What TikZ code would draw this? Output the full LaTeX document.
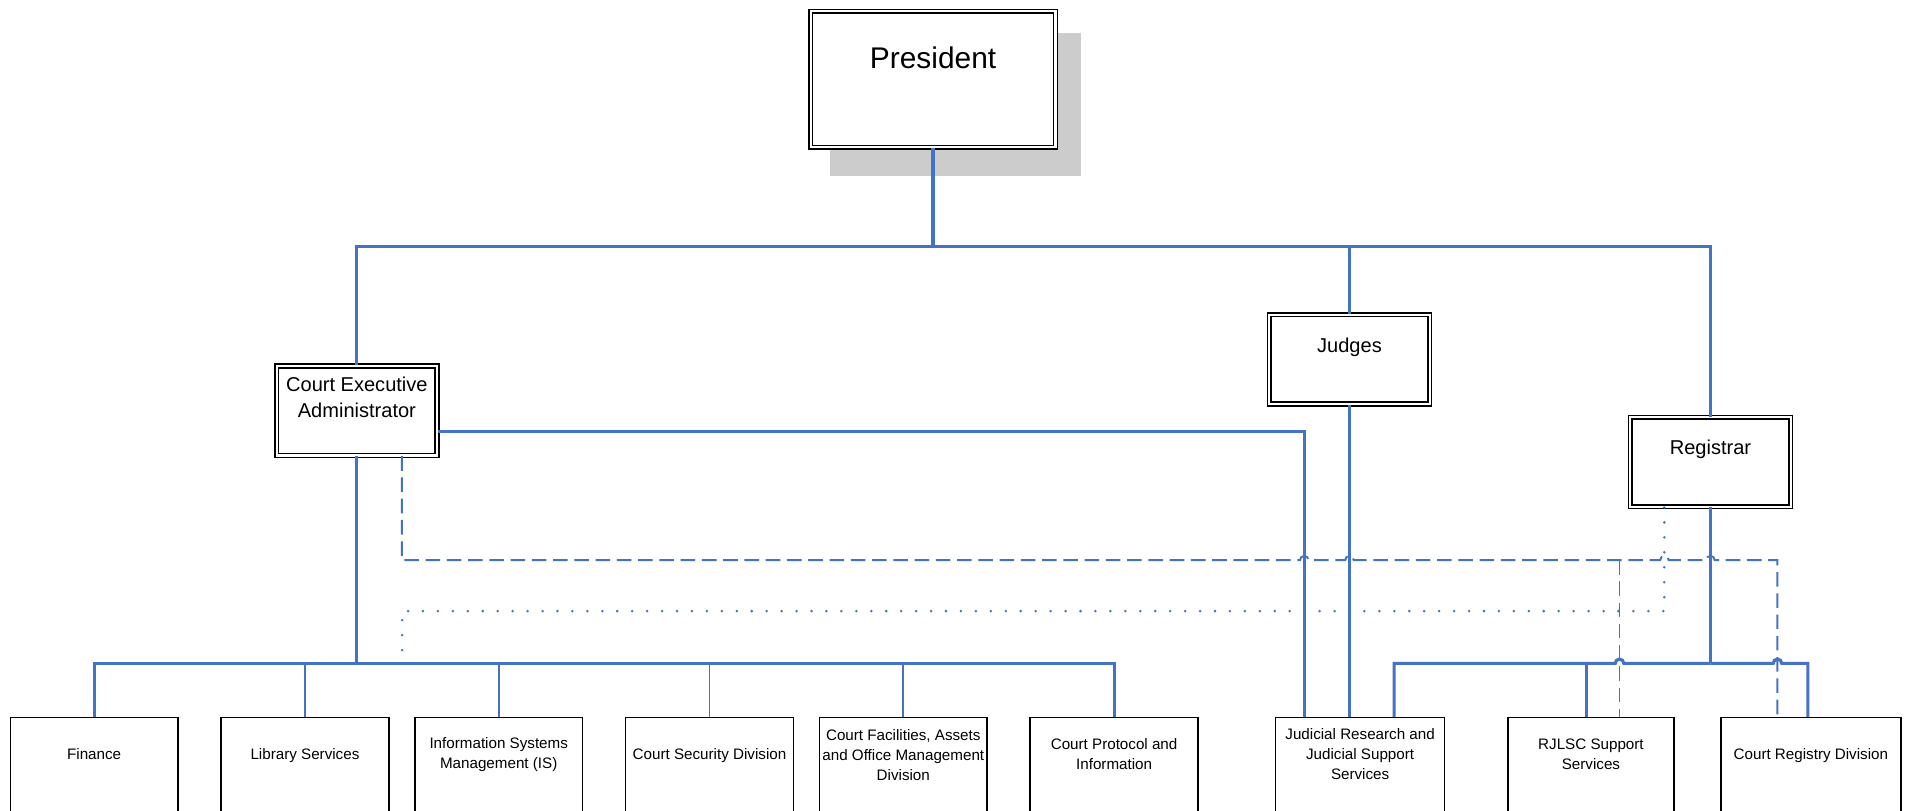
\documentclass[tikz,border=0pt]{standalone}
\usepackage{fontspec}
\setmainfont{Liberation Sans}
\usetikzlibrary{calc}
\usetikzlibrary{positioning}

\definecolor{linkblue}{RGB}{68,114,196}

\tikzset{
    conn/.style={draw=linkblue, line width=2.6pt},
    thinconn/.style={draw=linkblue, line width=1.4pt},
    dashconn/.style={draw=linkblue, line width=1.6pt, dash pattern=on 12pt off 5.5pt},
    dotconn/.style={draw=linkblue, line width=2.3pt, line cap=round, dash pattern=on 0pt off 12.3pt},
    headbox/.style={draw, double, double distance=1.8pt, line width=1.3pt, fill=white,
        minimum width=132pt, minimum height=73.5pt, inner sep=0pt},
    unitbox/.style={draw, line width=1.3pt, fill=white, minimum width=138pt,
        minimum height=150pt, anchor=north, inner sep=0pt},
    headtext/.style={font=\fontsize{16.5}{22}\selectfont, align=center, inner sep=0pt},
    unittext/.style={font=\fontsize{12.5}{16.5}\selectfont, align=center, inner sep=0pt},
}

\begin{document}
\begin{tikzpicture}[x=1pt,y=-1pt]
    \useasboundingbox (0,0) rectangle (1568,667.5);
    \clip (0,0) rectangle (1568,667.5);
    \fill[white] (0,0) rectangle (1568,667.5);

    % top of the chart
    \fill[black!20] (683,27) rectangle (890,145);
    \node[headbox, minimum width=201.6pt, minimum height=112pt] (pres) at (768,65.25) {};
    \node[headtext, font=\fontsize{24.6}{30}\selectfont, anchor=base] (pres-t) at (768,56.2) {President};

    \node[headbox] (cea) at (293.75,338.1) {};
    \node[headbox] (judges) at (1110.75,295.85) {};
    \node[headbox] (registrar) at (1407.85,380.3) {};
    \node[headtext] (cea-t) at (293.75,327) {Court Executive\\Administrator};
    \node[headtext, anchor=base] (judges-t) at (1110.75,290) {Judges};
    \node[headtext, anchor=base] (registrar-t) at (1407.85,373.7) {Registrar};

    % units
    \node[unitbox] (fin) at (77.5,590) {};
    \node[unitbox] (lib) at (251,590) {};
    \node[unitbox] (ism) at (410.5,590) {};
    \node[unitbox] (sec) at (584,590) {};
    \node[unitbox] (fac) at (743.5,590) {};
    \node[unitbox] (prot) at (917,590) {};
    \node[unitbox, minimum width=139pt] (jr) at (1119.5,590) {};
    \node[unitbox, minimum width=137pt] (rjlsc) at (1309.5,590) {};
    \node[unitbox, minimum width=148pt] (registry) at (1490.5,590) {};

    \node[unittext] (fin-t) at ([yshift=-30.5pt]fin.north) {Finance};
    \node[unittext] (lib-t) at ([yshift=-32pt]lib.north) {Library Services};
    \node[unittext] (ism-t) at ([yshift=-31pt]ism.north) {Information Systems\\Management (IS)};
    \node[unittext] (sec-t) at ([yshift=-32pt]sec.north) {Court Security Division};
    \node[unittext] (fac-t) at ([yshift=-31.5pt]fac.north) {Court Facilities, Assets\\and Office Management\\Division};
    \node[unittext] (prot-t) at ([yshift=-31pt]prot.north) {Court Protocol and\\Information};
    \node[unittext] (jr-t) at ([yshift=-31pt]jr.north) {Judicial Research and\\Judicial Support\\Services};
    \node[unittext] (rjlsc-t) at ([yshift=-31pt]rjlsc.north) {RJLSC Support\\Services};
    \node[unittext] (registry-t) at ([yshift=-32pt]registry.north) {Court Registry Division};

    % solid lines
    \coordinate (pres-bus) at (768,203);
    \coordinate (cea-bus) at (293.75,546);
    \coordinate (reg-bus) at (1407.85,546);
    \coordinate (dash-split) at (1333,461);
    \coordinate (dot-end) at (331,546);

    \draw[conn] (pres.south) -- (pres-bus);
    \draw[conn] (pres-bus) -| (cea.north);
    \draw[conn] (pres-bus) -| (judges.north);
    \draw[conn] (pres-bus) -| (registrar.north);

    \draw[conn] (cea.south) -- (cea-bus);
    \draw[conn] (cea-bus) -| (fin.north);
    \draw[conn] (cea-bus) -| (prot.north);
    \foreach \u in {lib,ism,sec,fac}
        \draw[thinconn] (cea-bus) -| (\u.north);

    \draw[conn] ([yshift=-17.4pt]cea.east) -| ([xshift=-46pt]jr.north);
    \draw[conn] (judges.south) -- (judges.south |- jr.north);

    \draw[conn] (registrar.south) -- (reg-bus);
    \draw[conn] (reg-bus) -- (1336.5,546) arc[start angle=0, end angle=180, radius=3.5pt]
        -| ([xshift=28pt]jr.north);
    \draw[conn] ([xshift=-3.5pt]rjlsc.north |- reg-bus) -- ([xshift=-3.5pt]rjlsc.north);
    \draw[conn] (reg-bus) -- (1459.5,546) arc[start angle=180, end angle=0, radius=3.5pt]
        -| ([xshift=-2.5pt]registry.north);

    % dashed and dotted lines
    \draw[dashconn] ([xshift=37pt]cea.south) |- (1060,461)
        foreach \hx in {1073.5,1110.75,1370,1407.85} {
            -- (\hx-3.5,461) arc[start angle=180, end angle=0, radius=3.5pt]
        }
        -| ([xshift=-27.5pt]registry.north);
    \draw[dashconn] (dash-split) -- ([xshift=23.5pt]rjlsc.north);

    \draw[dotconn] ([xshift=-38pt]registrar.south) |- (331,503) -- (dot-end);
\end{tikzpicture}
\end{document}
